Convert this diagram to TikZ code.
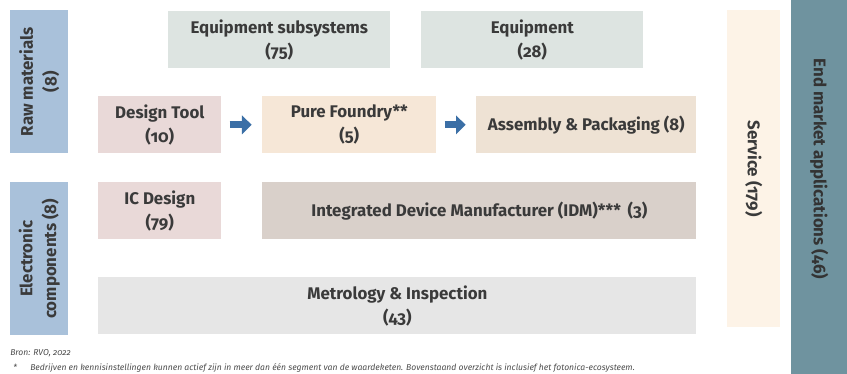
\documentclass[tikz,border=0pt]{standalone}
\usepackage{fontspec}
\setmainfont{Fira Sans}[Numbers=OldStyle]
\usetikzlibrary{arrows.meta, positioning}
\definecolor{sideblue}{HTML}{A9C1DA}
\definecolor{eqgreen}{HTML}{DDE4E1}
\definecolor{designpink}{HTML}{E9D9D8}
\definecolor{foundrypeach}{HTML}{F6E7D7}
\definecolor{assemblybeige}{HTML}{EEE2D4}
\definecolor{idmtaupe}{HTML}{D9D0CA}
\definecolor{metrogray}{HTML}{E6E6E6}
\definecolor{servicecream}{HTML}{FDF3E7}
\definecolor{endteal}{HTML}{6F939F}
\definecolor{arrowblue}{HTML}{3B6FA6}
\definecolor{txtgray}{HTML}{3A3A3A}
\tikzset{blk/.style={anchor=north west, inner sep=0pt, align=center, text=txtgray,
            font=\bfseries\fontsize{12}{17}\selectfont}}
\tikzset{flow/.style={-{Triangle[length=0.24cm, width=0.46cm]}, line width=0.18cm,
            draw=arrowblue, shorten <=0.2cm, shorten >=0.26cm}}
\tikzset{note/.style={anchor=base west, inner sep=0pt, text=black!70,
            font=\itshape\fontsize{6.1}{7}\selectfont}}

\begin{document}
\begin{tikzpicture}[x=0.025cm, y=-0.025cm]

    \useasboundingbox (0,0) rectangle (847,374);

    % left column
    \node(raw)[blk, fill=sideblue, minimum width=1.45cm, minimum height=3.575cm] at (10,10){};
    \node[blk, rotate=90, anchor=center] at (raw.center){Raw materials\\(8)};
    \node(elec)[blk, fill=sideblue, minimum width=1.45cm, minimum height=3.825cm] at (10,182){};
    \node[blk, rotate=90, anchor=center] at (elec.center){Electronic\\components (8)};

    % top row
    \node(eqsub)[blk, fill=eqgreen, minimum width=5.55cm, minimum height=1.425cm] at (168,11){Equipment subsystems\\(75)};
    \node(equip)[blk, fill=eqgreen, minimum width=5.55cm, minimum height=1.425cm] at (421,11){Equipment\\(28)};

    % middle row
    \node(design)[blk, fill=designpink, minimum width=3.075cm, minimum height=1.425cm] at (98,96){Design Tool\\(10)};
    \node(foundry)[blk, fill=foundrypeach, minimum width=4.35cm, minimum height=1.425cm] at (262,96){Pure Foundry**\\(5)};
    \node(assembly)[blk, fill=assemblybeige, minimum width=5.5cm, minimum height=1.425cm] at (476,96){Assembly \& Packaging (8)};

    \draw[flow] (design) -- (foundry);
    \draw[flow] (foundry) -- (assembly);

    % lower rows
    \node(icdesign)[blk, fill=designpink, minimum width=3.075cm, minimum height=1.425cm] at (98,182){IC Design\\(79)};
    \node(idm)[blk, fill=idmtaupe, minimum width=10.85cm, minimum height=1.425cm] at (262,182){Integrated Device Manufacturer (IDM)***\ \,(3)};
    \node(metro)[blk, fill=metrogray, minimum width=14.95cm, minimum height=1.425cm] at (98,277){Metrology \& Inspection\\(43)};

    % right columns
    \node(service)[blk, fill=servicecream, minimum width=1.325cm, minimum height=7.925cm] at (727,10){};
    \node[blk, rotate=-90, anchor=center] at (service.center){Service (179)};
    \node(endmarket)[blk, fill=endteal, minimum width=1.4cm, minimum height=9.35cm] at (791,0){};
    \node[blk, rotate=-90, anchor=center, text=black!80] at ([yshift=0.46cm]endmarket.center){End market applications (46)};

    % source and footnote
    \node(bron)[note] at (10,355){Bron: RVO, 2022};
    \node(star)[note] at (13,370){*};
    \node(fn)[note] at (30,370){Bedrijven en kennisinstellingen kunnen actief zijn in meer dan één segment van de waardeketen. Bovenstaand overzicht is inclusief het fotonica-ecosysteem.};

\end{tikzpicture}
\end{document}
